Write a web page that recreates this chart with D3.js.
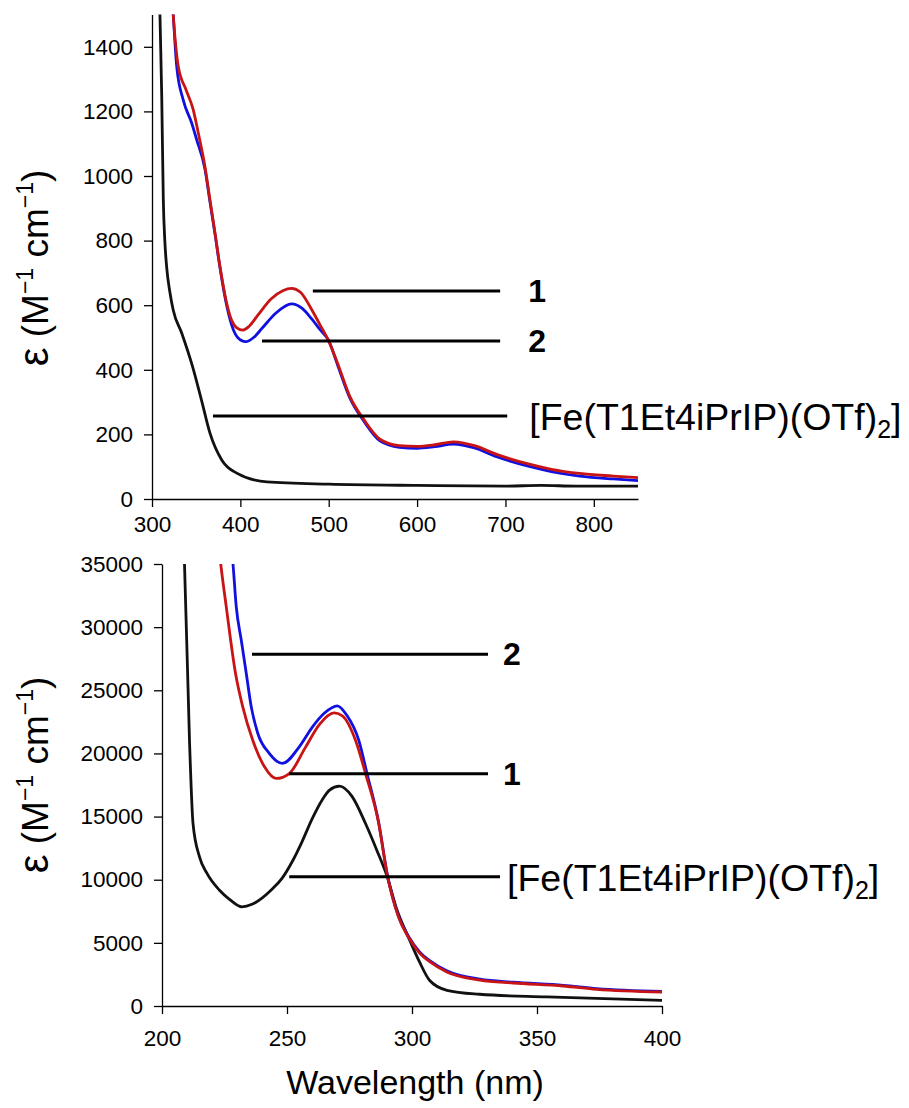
<!DOCTYPE html>
<html>
<head>
<meta charset="utf-8">
<script src="https://cdn.jsdelivr.net/npm/d3@7"></script>
<style>
  body { margin: 0; background: #fff; }
  svg text { font-family: "Liberation Sans", Arial, sans-serif; fill: #000; }
  .axis path, .axis line { stroke: #000; stroke-width: 1.3; }
  .axis text { font-size: 22.5px; font-family: "Liberation Sans", Arial, sans-serif; }
</style>
</head>
<body>
<svg id="canvas_svg" width="909" height="1108"></svg>
<script>
// visible-range data: [wavelength nm, epsilon]
var visBlackFe = [[305,2200],[309,1500],[311,1250],[312.8,926],[314.5,800],[316.6,718],[320.4,638],[324,585],[333.6,514],[346,409],[356,306],[365.6,204],[378.9,121],[395.9,80],[430,53],[500,46],[600,42],[700,40],[740,42],[780,40],[850,40]];
var visRed1 = [[318,1800],[324,1500],[329.8,1338],[338.5,1267],[346.7,1205],[352.4,1133],[360,1028],[365.6,926],[371.3,824],[377,718],[383.7,616],[390,554],[396,530],[403,523],[410,535],[420,570],[435,620],[448,645],[458,652],[468,640],[480,590],[490,540],[499.5,492],[510,420],[524,317],[540,245],[558,185],[580,165],[600,163],[620,168],[641,177],[665,165],[690,138],[728,107],[752,92],[784,79],[822,71],[850,66]];
var visBlue2 = [[318,1750],[324,1500],[328,1338],[335.4,1235],[344.9,1164],[350.6,1112],[360,1020],[365.6,920],[371.3,820],[377,715],[383.7,610],[390,540],[397,500],[406,487],[415,500],[425,530],[440,575],[458,604],[470,590],[480,560],[490,525],[500,490],[510,415],[524,312],[540,240],[558,180],[580,160],[600,157],[620,162],[641,170],[665,158],[690,131],[728,100],[752,85],[784,71],[822,62],[850,57]];

// UV-range data
var uvBlackFe = [[205,45000],[209,35000],[211,21000],[212.4,14470],[215,11810],[218,10500],[223,9170],[227,8450],[232,7850],[236,8050],[240,8550],[244,9250],[248,10100],[252,11400],[256,13000],[260,14800],[264,16300],[267,17100],[271,17410],[276,16600],[281.4,14450],[286,12300],[290,10280],[294,7600],[298.5,5470],[303,3490],[307,2040],[314,1245],[327,930],[354,715],[400,450]];
var uvRed1 = [[221,40000],[223.5,35000],[225.7,31620],[229.4,26350],[232.3,23690],[236.3,21050],[241,18940],[245.6,18020],[250.9,18410],[257.5,20520],[263,22300],[268.8,23210],[272,23000],[277.4,21050],[281.4,18410],[286.7,14450],[290,10490],[294.6,7050],[298.5,5470],[303.2,4150],[307.2,3490],[313.9,2700],[327.2,2040],[340.5,1820],[360.5,1585],[373.9,1320],[400,1110]];
var uvBlue2 = [[226,40000],[228.4,35000],[229.7,31620],[231.7,28980],[233.7,26350],[235.7,23690],[238.3,21600],[242.9,20010],[248.2,19210],[254.9,20520],[260.2,22110],[265,23200],[270.1,23770],[274,23000],[278.7,21050],[282,18410],[286.7,14500],[290,10550],[294.6,7100],[298.5,5550],[303.2,4250],[307.2,3580],[313.9,2800],[327.2,2120],[340.5,1880],[360.5,1640],[373.9,1380],[400,1160]];

var visXTicks = [300,400,500,600,700,800];
var visYTicks = [0,200,400,600,800,1000,1200,1400];
var uvXTicks = [200,250,300,350,400];
var uvYTicks = [0,5000,10000,15000,20000,25000,30000,35000];

// annotation lines in data units: label, from, to, epsilon
var visLabels = [["1",482,694,644],["2",424.5,694,489],["fe",369,702,257]];
var uvLabels = [["2",236,330.4,27850],["1",250.8,330.4,18400],["fe",250.9,335.2,10240]];

var svg = d3.select("#canvas_svg");

function panel(opts) {
  var x = d3.scaleLinear().domain(opts.xd).range(opts.xr);
  var y = d3.scaleLinear().domain(opts.yd).range(opts.yr);
  var g = svg.append("g");

  g.append("clipPath").attr("id", opts.id)
    .append("rect")
    .attr("x", opts.xr[0]).attr("y", opts.yr[1])
    .attr("width", opts.xr[1] - opts.xr[0]).attr("height", opts.yr[0] - opts.yr[1]);

  g.append("g").attr("class", "axis")
    .attr("transform", "translate(0," + opts.yr[0] + ")")
    .call(d3.axisBottom(x).tickValues(opts.xt).tickSize(8).tickSizeOuter(0).tickPadding(opts.xPad).tickFormat(d3.format("d")));
  g.append("g").attr("class", "axis")
    .attr("transform", "translate(" + opts.xr[0] + ",0)")
    .call(d3.axisLeft(y).tickValues(opts.yt).tickSize(8).tickSizeOuter(0).tickPadding(11).tickFormat(d3.format("d")));

  var line = d3.line().x(d => x(d[0])).y(d => y(d[1])).curve(d3.curveMonotoneX);
  var series = [[opts.black, "#111"], [opts.blue, "#1010e0"], [opts.red, "#c81414"]];
  g.append("g").attr("clip-path", "url(#" + opts.id + ")")
    .selectAll("path").data(series).enter().append("path")
    .attr("d", d => line(d[0]))
    .attr("fill", "none")
    .attr("stroke", d => d[1])
    .attr("stroke-width", 2.8);

  opts.labels.forEach(function (l) {
    g.append("line")
      .attr("x1", x(l[1])).attr("x2", x(l[2]))
      .attr("y1", y(l[3])).attr("y2", y(l[3]))
      .attr("stroke", "#000").attr("stroke-width", 3);
    if (l[0] == "fe") {
      var t = g.append("text").attr("x", x(l[2]) + opts.feGap)
        .attr("y", y(l[3]) + 14).attr("font-size", 37.5);
      t.append("tspan").text("[Fe(T1Et4iPrIP)(OTf)");
      t.append("tspan").attr("font-size", 25).attr("dy", 8).text("2");
      t.append("tspan").attr("dy", -8).text("]");
    } else {
      g.append("text").attr("x", x(l[2]) + opts.gap)
        .attr("y", y(l[3]) + 11).attr("font-size", 32).attr("font-weight", "bold").text(l[0]);
    }
  });

  var yl = g.append("text")
    .attr("transform", "translate(" + 48 + "," + opts.labelY + ") rotate(-90)")
    .attr("text-anchor", "middle")
    .attr("font-size", 37);
  yl.append("tspan").attr("font-size", 42).text("ε");
  yl.append("tspan").text(" (M");
  yl.append("tspan").attr("font-size", 23).attr("dy", -15).text("−1");
  yl.append("tspan").attr("dy", 15).text(" cm");
  yl.append("tspan").attr("font-size", 23).attr("dy", -15).text("−1");
  yl.append("tspan").attr("dy", 15).text(")");
}

panel({id: "clipTop", xd: [300, 850], xr: [152, 638], yd: [0, 1500], yr: [499, 14.5],
  xt: visXTicks, yt: visYTicks, black: visBlackFe, blue: visBlue2, red: visRed1,
  labels: visLabels, gap: 28, feGap: 22, labelY: 268, xPad: 9});

panel({id: "clipBot", xd: [200, 400], xr: [162, 662], yd: [0, 35000], yr: [1006, 564],
  xt: uvXTicks, yt: uvYTicks, black: uvBlackFe, blue: uvBlue2, red: uvRed1,
  labels: uvLabels, gap: 15, feGap: 7, labelY: 775, xPad: 16});

svg.append("text")
  .attr("x", 415).attr("y", 1094)
  .attr("text-anchor", "middle")
  .attr("font-size", 34)
  .text("Wavelength (nm)");
</script>
</body>
</html>
